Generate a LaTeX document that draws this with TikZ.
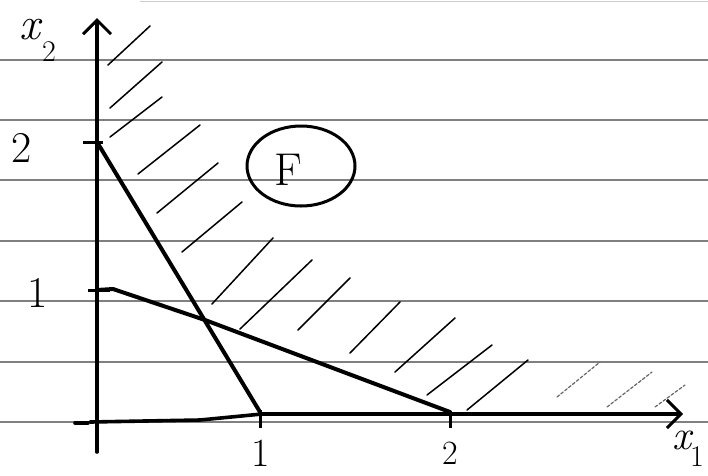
\documentclass[tikz,border=0pt]{standalone}
\usepackage{fontspec}
\usetikzlibrary{arrows.meta}
\begin{document}
\begin{tikzpicture}[x=1pt,y=-1pt,
  ruled/.style={draw=black!50,line width=1.4pt},
  axisline/.style={draw=black,line width=3.6pt,line cap=round,line join=round},
  constraint/.style={draw=black,line width=4pt,line cap=round,line join=round},
  hatch/.style={draw=black,line width=1.5pt,line cap=round},
  faint/.style={draw=black!60,line width=1.2pt,dash pattern=on 3pt off 2pt,line cap=round},
  tick/.style={draw=black,line width=3pt},
  lab/.style={inner sep=0pt,font=\fontsize{#1}{#1}\selectfont},
  barb/.style={-{Straight Barb[length=14pt,width=28pt,line width=3pt]}}]
\useasboundingbox (0,0) rectangle (708,475);
\fill[white] (0,0) rectangle (708,475);
% ruled lines
\draw[draw=black!20,line width=1pt] (140,1) -- (708,1);
\foreach \yy in {60,120,180,241,301,362,422}
  \draw[ruled] (0,\yy) -- (708,\yy);
% hatching
\foreach \a/\b/\c/\d in {108/65/150/26, 110/108/162/62, 110/137/162/97,
   138/174/200/125, 157/213/218/163, 182/252/242/202, 212/304/273/238,
   240/329/312/260, 298/330/350/278, 350/353/400/302, 395/372/455/318,
   427/395/492/345, 467/410/528/360}
  \draw[hatch] (\a,\b) -- (\c,\d);
\foreach \a/\b/\c/\d in {557/397/600/362, 607/407/652/372, 655/407/685/385}
  \draw[faint] (\a,\b) -- (\c,\d);
% axes
\coordinate (o) at (97,452);
\coordinate (ytop) at (97,18);
\coordinate (xs) at (90,422);
\coordinate (xm) at (200,420);
\coordinate (xa) at (262,414);
\coordinate (xend) at (683,414);
\draw[axisline,barb] (o) -- (ytop);
\draw[axisline] (xs) -- (xm) -- (xa);
\draw[axisline,barb] (xa) -- (xend);
\draw[axisline] (75,423) -- (88,423);
% ticks
\draw[tick] (83,142) -- (103,142);
\draw[tick] (88,290) -- (110,290);
\draw[tick] (260,410) -- (260,428);
\draw[tick] (450,412) -- (450,428);
% constraint lines
\coordinate (a2) at (97,142);
\coordinate (a1) at (260,412);
\coordinate (b1) at (97,290);
\coordinate (bk) at (113,289);
\coordinate (bi) at (205,320);
\coordinate (b2) at (450,412);
\draw[constraint] (a2) -- (a1);
\draw[constraint] (b1) -- (bk) -- (bi) -- (b2);
% labels
\node[lab=44] (ltwo) at (22,148) {2};
\node[lab=44] (lone) at (38,293) {1};
\node[lab=40] (xone) at (261,453) {1};
\node[lab=34] (xtwo) at (450,453) {2};
\node[lab=46] (xlab) at (31,30) {\textit{x}};
\node[lab=30] (xsub) at (49,52) {2};
\node[lab=42] (x1lab) at (683,440) {\textit{x}};
\node[lab=30] (x1sub) at (697,457) {1};
\node[lab=46] (F) at (288,170) {F};
\draw[line width=3pt] (301,166) ellipse [x radius=54, y radius=40];
\end{tikzpicture}
\end{document}
